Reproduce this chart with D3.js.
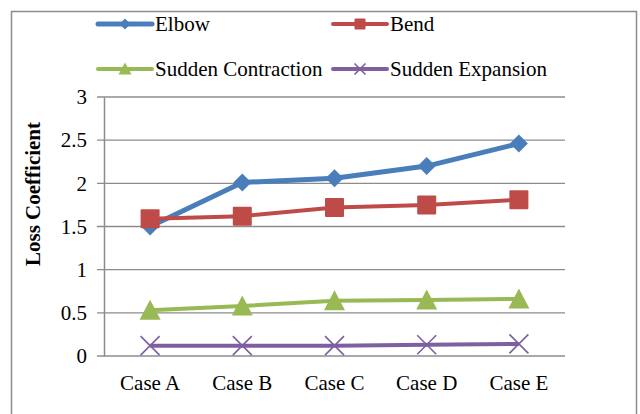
<!DOCTYPE html>
<html>
<head>
<meta charset="utf-8">
<script src="https://cdn.jsdelivr.net/npm/d3@7"></script>
<style>
  body { margin: 0; background: #fff; }
  text { font-family: "Liberation Serif", "Times New Roman", serif; fill: #000; }
</style>
</head>
<body>
<div id="chart"></div>
<script>
// Loss coefficient per case
const cases = ["Case A", "Case B", "Case C", "Case D", "Case E"];
const elbow = [1.5, 2.01, 2.06, 2.2, 2.46];
const bend = [1.59, 1.62, 1.72, 1.75, 1.81];
const contraction = [0.53, 0.58, 0.64, 0.65, 0.66];
const expansion = [0.12, 0.12, 0.12, 0.13, 0.14];
const yTicks = [0, 0.5, 1, 1.5, 2, 2.5, 3];

const series = [
    {name: "Elbow", values: elbow, color: "#4A7EBB", marker: "diamond", lw: 5},
    {name: "Bend", values: bend, color: "#BE4B48", marker: "square", lw: 4},
    {name: "Sudden Contraction", values: contraction, color: "#98B954", marker: "triangle", lw: 4},
    {name: "Sudden Expansion", values: expansion, color: "#7D60A0", marker: "x", lw: 4}
];

const W = 640, H = 414;
const margin = {top: 97, right: 75, bottom: 58, left: 104},
    width = 565 - margin.left,
    height = 356 - margin.top;

const root = d3.select("#chart").append("svg")
    .attr("width", W).attr("height", H);

// outer chart frame
root.append("rect")
    .attr("x", 11.5).attr("y", 11.5)
    .attr("width", 625).attr("height", 420)
    .attr("fill", "none").attr("stroke", "#8c8c8c").attr("stroke-width", 1.5);

const svg = root.append("g")
    .attr("transform", `translate(${margin.left},${margin.top})`);

const x = d3.scaleBand().domain(cases).range([0, width]);
const y = d3.scaleLinear().domain([0, 3]).range([height, 0]);

// gridlines
svg.append("g")
    .selectAll("line")
    .data(yTicks)
    .enter().append("line")
    .attr("x1", -7).attr("x2", width)
    .attr("y1", d => y(d)).attr("y2", d => y(d))
    .attr("stroke", "#8c8c8c").attr("stroke-width", 1.3);

// y axis
const yAxis = svg.append("g")
    .call(d3.axisLeft(y).tickValues(yTicks).tickSize(0).tickPadding(17).tickFormat(d3.format("")));
yAxis.select(".domain").attr("stroke", "#8c8c8c").attr("stroke-width", 1.5);
yAxis.selectAll("text")
    .style("font-family", "Liberation Serif").style("font-size", "21px");

// x axis
const xAxis = svg.append("g")
    .attr("transform", `translate(0,${height})`)
    .call(d3.axisBottom(x).tickSize(0).tickPadding(19));
xAxis.select(".domain").remove();
xAxis.selectAll("text")
    .style("font-family", "Liberation Serif").style("font-size", "21px");

// axis title
svg.append("text")
    .attr("transform", "rotate(-90)")
    .attr("x", -(194 - margin.top))
    .attr("y", 40 - margin.left)
    .attr("text-anchor", "middle")
    .style("font-size", "21px")
    .style("font-weight", "bold")
    .text("Loss Coefficient");

function drawMarker(g, type, color, size) {
    const s = size / 2;
    if (type === "diamond") {
        g.append("path").attr("d", `M0,${-s}L${s},0L0,${s}L${-s},0Z`).attr("fill", color);
    } else if (type === "square") {
        g.append("rect").attr("x", -s).attr("y", -s).attr("width", size).attr("height", size)
            .attr("rx", 1).attr("fill", color);
    } else if (type === "triangle") {
        g.append("path").attr("d", `M0,${-s - 1}L${s + 1},${s}L${-s - 1},${s}Z`).attr("fill", color);
    } else {
        g.append("path").attr("d", `M${-s},${-s}L${s},${s}M${-s},${s}L${s},${-s}`)
            .attr("stroke", color).attr("stroke-width", 1.6).attr("fill", "none");
    }
}

const line = d3.line()
    .x((d, i) => x(cases[i]) + x.bandwidth() / 2)
    .y(d => y(d));

series.forEach(s => {
    const g = svg.append("g");
    g.append("path")
        .attr("d", line(s.values))
        .attr("fill", "none")
        .attr("stroke", s.color)
        .attr("stroke-width", s.lw)
        .attr("stroke-linejoin", "round");
    s.values.forEach((v, i) => {
        const m = g.append("g")
            .attr("transform", `translate(${x(cases[i]) + x.bandwidth() / 2},${y(v)})`);
        drawMarker(m, s.marker, s.color, s.marker === "diamond" ? 18 : 19);
    });
});

// legend
const legendPos = [[98, 24], [333, 24], [98, 69], [333, 69]];
series.forEach((s, i) => {
    const [lx, ly] = legendPos[i];
    const g = root.append("g").attr("transform", `translate(${lx},${ly})`);
    g.append("line")
        .attr("x1", 0).attr("x2", 54).attr("y1", 0).attr("y2", 0)
        .attr("stroke", s.color).attr("stroke-width", s.lw)
        .attr("stroke-linecap", "round");
    const m = g.append("g").attr("transform", "translate(27,0)");
    drawMarker(m, s.marker, s.color, 11);
    g.append("text")
        .attr("x", 57).attr("y", 7)
        .style("font-size", "21px")
        .text(s.name);
});
</script>
</body>
</html>
